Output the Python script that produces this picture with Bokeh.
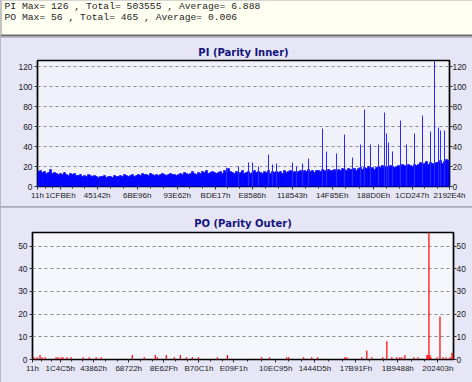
from bokeh.plotting import figure
from bokeh.models import FixedTicker, LinearAxis, Range1d, Span
from bokeh.layouts import column
from bokeh.embed import file_html
from bokeh.resources import INLINE
from bokeh.core.properties import value

# ---------------- data ----------------
header_lines = [
    "PI Max= 126 , Total= 503555 , Average= 6.888",
    "PO Max= 56 , Total= 465 , Average= 0.006",
]

pi_title = "PI (Parity Inner)"
po_title = "PO (Parity Outer)"

# PI error counts, one value per sample across the scan (206 samples)
pi_base = [
    15, 16, 14, 15, 13, 14, 17, 13, 14, 13,
    12, 13, 12, 14, 12, 11, 13, 12, 13, 11,
    11, 12, 10, 11, 10, 12, 11, 10, 11, 10,
    9, 10, 10, 11, 9, 10, 10, 9, 11, 10,
    10, 11, 10, 12, 11, 10, 11, 12, 10, 11,
    12, 11, 13, 12, 12, 11, 13, 12, 11, 12,
    11, 12, 13, 12, 11, 12, 13, 12, 12, 11,
    12, 13, 12, 14, 13, 12, 13, 15, 13, 12,
    14, 13, 15, 14, 16, 13, 14, 15, 14, 13,
    14, 15, 13, 16, 14, 18, 15, 14, 13, 15,
    13, 14, 16, 13, 14, 15, 13, 14, 16, 14,
    15, 14, 13, 15, 14, 16, 13, 15, 14, 15,
    14, 15, 13, 16, 14, 15, 16, 14, 15, 14,
    15, 16, 14, 16, 15, 17, 15, 16, 14, 16,
    16, 15, 17, 16, 15, 17, 16, 16, 17, 15,
    17, 16, 18, 17, 16, 18, 17, 17, 18, 16,
    18, 19, 17, 19, 18, 20, 18, 19, 17, 19,
    20, 19, 21, 19, 20, 19, 21, 20, 19, 20,
    21, 20, 22, 21, 20, 22, 21, 20, 22, 21,
    22, 24, 22, 23, 25, 22, 24, 23, 22, 24,
    24, 26, 23, 25, 27, 26,
]

# isolated PI peaks: sample index and count
pi_spike_idx = [94, 100, 105, 107, 110, 115, 117, 119, 127, 129, 132, 135,
                142, 144, 149, 153, 157, 161, 163, 166, 170, 173, 174, 175,
                177, 181, 184, 188, 192, 196, 198, 200, 201, 203]
pi_spike_val = [19, 20, 24, 24, 20, 32, 22, 23, 24, 20, 23, 28,
                58, 35, 33, 52, 29, 42, 77, 42, 42, 74, 53, 44,
                35, 66, 42, 53, 71, 55, 126, 59, 56, 56]

pi_n = 206
pi_tick_pos = [0, 11.5, 29.85, 49.85, 69.85, 89, 107.35, 127.35, 147.35, 168, 187.35, 206]
pi_tick_labels = ["11h", "1CFBEh", "45142h", "6BE96h", "93E62h", "BDE17h",
                  "E8586h", "118543h", "14F85Eh", "188D0Eh", "1CD247h", "2192E4h"]
pi_yticks = [0, 20, 40, 60, 80, 100, 120]
pi_ymax = 126

# PO error counts (sparse: sample index and count), 420 samples
po_n = 420
po_idx = [1, 4, 7, 9, 12, 23, 25, 28, 30, 34, 38, 50, 56, 63, 68, 99, 111, 122,
          124, 133, 141, 147, 153, 159, 165, 184, 194, 228, 236, 253, 255, 270,
          278, 284, 311, 313, 328, 333, 338, 349, 353, 358, 363, 366, 368, 371,
          380, 384, 393, 394, 395, 396, 397, 403, 406, 409, 412, 416, 418, 419]
po_val = [1, 1, 2, 1, 1, 1, 1, 1, 1, 1, 1, 1, 1, 1, 1, 2, 1, 2,
          1, 2, 1, 2, 1, 1, 1, 1, 2, 1, 1, 1, 1, 1,
          1, 1, 1, 1, 1, 4, 1, 1, 8, 1, 1, 1, 1, 2,
          1, 1, 2, 2, 56, 2, 1, 1, 19, 1, 1, 1, 3, 2]
po_tick_pos = [0, 27.7, 61, 96, 131, 166, 200.7, 242.7, 281.7, 322.7, 364.4, 404.4]
po_tick_labels = ["11h", "1C4C5h", "43862h", "68722h", "8E62Fh", "B70C1h",
                  "E09F1h", "10EC95h", "1444D5h", "17B91Fh", "1B9488h", "202403h"]
po_yticks = [0, 10, 20, 30, 40, 50]
po_ymax = 56

# ---------------- styling ----------------
W = 472
PANEL_BG = "#e6e6f6"
TITLE_COLOR = "#14147c"
TICK_FONT = "Liberation Sans"


def minor_between(ticks):
    out = []
    for a, b in zip(ticks[:-1], ticks[1:]):
        out += [a + (b - a) / 3.0, a + 2 * (b - a) / 3.0]
    return out


def style_axis(ax, ticks, labels=None, minor=None, size="8.4px"):
    ax.ticker = FixedTicker(ticks=ticks, minor_ticks=minor or [])
    if labels is not None:
        ax.major_label_overrides = {t: l for t, l in zip(ticks, labels)}
    ax.axis_line_color = None
    ax.major_tick_in = 0
    ax.major_tick_out = 3
    ax.minor_tick_in = 0
    ax.minor_tick_out = 2 if minor else 0
    ax.major_tick_line_color = "#303030"
    ax.minor_tick_line_color = "#303030"
    ax.major_label_text_font = TICK_FONT
    ax.major_label_text_font_size = size
    ax.major_label_text_color = "#1a1a1a"
    ax.major_label_standoff = 2


def make_panel(title, n, ymax, yticks, xticks, xlabels, height, frame_bg,
               left, right, top, bottom, title_standoff):
    p = figure(width=W, height=height, output_backend="svg", toolbar_location=None,
               x_range=Range1d(0, n), y_range=Range1d(0, ymax),
               min_border_left=left, min_border_right=right,
               min_border_top=top, min_border_bottom=bottom,
               x_axis_location="below", y_axis_location="left")
    p.frame_align = False
    p.title.text = title
    p.title.align = "center"
    p.title.text_font = "DejaVu Sans"
    p.title.text_font_style = "bold"
    p.title.text_font_size = "10px"
    p.title.text_color = TITLE_COLOR
    p.title.standoff = title_standoff
    p.background_fill_color = frame_bg
    p.border_fill_color = PANEL_BG
    p.outline_line_color = "black"
    p.outline_line_width = 1.7
    p.xgrid.grid_line_color = None
    p.ygrid.grid_line_color = "#8a8a8a"
    p.ygrid.grid_line_dash = "3 3"
    p.ygrid.grid_line_width = 1
    p.ygrid.ticker = FixedTicker(ticks=yticks)
    style_axis(p.xaxis[0], xticks, xlabels, minor_between(xticks), size="8px")
    p.xaxis[0].major_label_standoff = 1
    style_axis(p.yaxis[0], yticks)
    ry = LinearAxis()
    style_axis(ry, yticks)
    ry.major_label_standoff = 0
    p.add_layout(ry, "right")
    return p


# ---------------- header ----------------
HH = 36
hdr = figure(width=W, height=HH, output_backend="svg", toolbar_location=None,
             x_range=Range1d(0, W), y_range=Range1d(0, HH),
             min_border=0, x_axis_type=None, y_axis_type=None)
hdr.frame_align = False
hdr.grid.visible = False
hdr.outline_line_color = None
hdr.background_fill_color = "#fffff2"
hdr.border_fill_color = "#fffff2"
hdr.text(x=[4, 4], y=[HH - 5.7, HH - 17.3], text=header_lines,
         text_font=value("Liberation Mono"), text_font_size="9.7px",
         text_color="#262626", text_baseline="middle", text_align="left")
hdr.add_layout(Span(location=1, dimension="width", line_color="#6a6a6a", line_width=2))
hdr.add_layout(Span(location=0.5, dimension="height", line_color="#8a8a8a", line_width=1))

# ---------------- PI panel ----------------
p1 = make_panel(pi_title, pi_n, pi_ymax, pi_yticks, pi_tick_pos, pi_tick_labels,
                169, "#f1f1fb", 37, 23, 23, 20, 6)
xs = [i + 0.5 for i in range(len(pi_base))]
p1.vbar(x=xs, top=pi_base, bottom=0, width=1, fill_color="#0000ff",
        line_color="#0000ff", line_width=0.6)
p1.segment(x0=[i + 0.5 for i in pi_spike_idx], y0=[0] * len(pi_spike_idx),
           x1=[i + 0.5 for i in pi_spike_idx], y1=pi_spike_val,
           line_color="#2a2aff", line_width=1)

# ---------------- PO panel ----------------
p2 = make_panel(po_title, po_n, po_ymax, po_yticks, po_tick_pos, po_tick_labels,
                175, "#f6f6fd", 32, 19, 25, 23, 7)
p2.segment(x0=[i + 0.5 for i in po_idx], y0=[0] * len(po_idx),
           x1=[i + 0.5 for i in po_idx], y1=po_val,
           line_color="#ff0000", line_width=1.2)

layout = column(hdr, p1, p2, spacing=1, styles={"background-color": "#a9a9b9"})

open("out.html", "w").write(file_html(layout, INLINE))
